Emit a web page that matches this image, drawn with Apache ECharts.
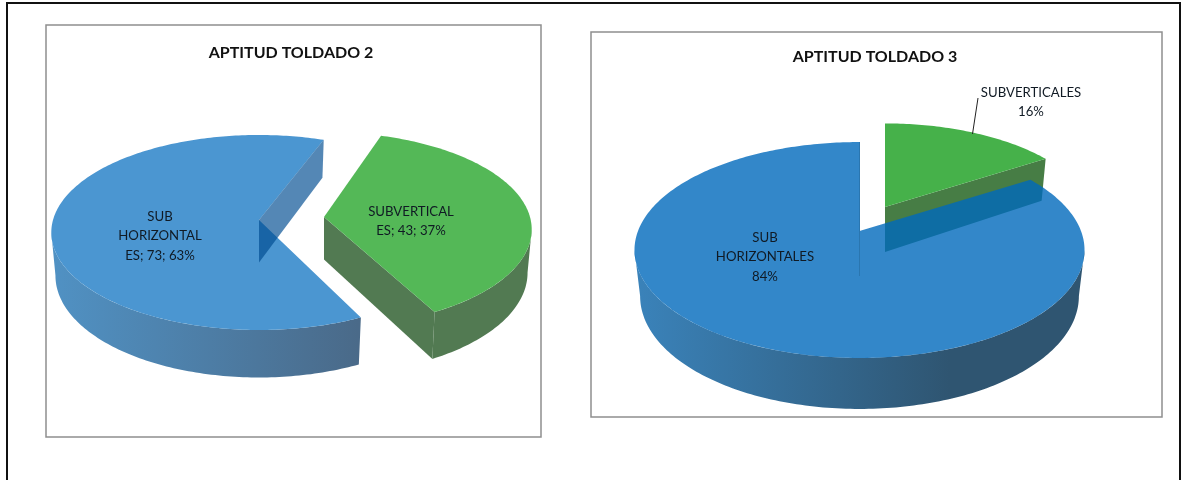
<!DOCTYPE html>
<html>
<head>
<meta charset="utf-8">
<style>html,body{margin:0;padding:0;background:#fff}#c{width:1181px;height:480px}</style>
<script src="https://cdn.jsdelivr.net/npm/echarts@6/dist/echarts.min.js"></script>
</head>
<body>
<div id="c"></div>
<script>
// ---- data ----
const titles = ['APTITUD TOLDADO 2', 'APTITUD TOLDADO 3'];
const toldado2Names = ['SUBVERTICAL\nES', 'SUB\nHORIZONTAL\nES'];
const toldado2Values = [43, 73];
const toldado3Names = ['SUBVERTICALES', 'SUB\nHORIZONTALES'];
const toldado3Values = [16, 84];

// ---- layout and style (no data here) ----
const FONT = 'Lato';
const LABEL_COLOR = '#101a24';
const charts = [
  {
    names: toldado2Names, values: toldado2Values, start: 20.6,
    k: 0.128, rx: 206, ry: 95.9, d0: 42.5, d1: 5, botScale: 0.98,
    label: p => `${p.name}; ${p.value}; ${p.pct}%`,
    slices: [
      { cx: 324, cy: 217, scale: 1, rot: -2.5, top: '#54b857',
        side: '#527a52', face: { fill: '#527a52', over: false },
        labelPos: [411, 221] },
      { cx: 259, cy: 220, scale: 1, rot: 0, top: '#4b96d1',
        side: { x: 55, x2: 358, stops: ['#5091c3', '#4a6a89'] },
        face: { fill: 'rgba(0,76,145,0.67)', over: true },
        labelPos: [160, 236] }
    ]
  },
  {
    names: toldado3Names, values: toldado3Values, start: 0,
    k: 0.176, rx: 221.5, ry: 104.6, d0: 45, d1: 6, botScale: 0.975,
    label: p => `${p.name}\n${p.value}%`,
    slices: [
      { cx: 885, cy: 207, scale: 0.94, rot: 0, top: '#46b14a',
        side: '#477d45', face: { fill: '#477d45', over: false },
        labelPos: [1031, 102] },
      { cx: 859.5, cy: 231, scale: 1, rot: 0, top: 'rgba(0,105,187,0.8)',
        side: { x: 640, x2: 950, stops: ['#3a82b9', '#2f5571'] },
        face: { fill: '#2a76b0', stroke: '#2a76b0', over: true },
        labelPos: [765, 257] }
    ],
    leader: [[978, 98], [972.5, 134]]
  }
];
const frames = [
  { x: 46, y: 25, width: 495, height: 412 },
  { x: 591, y: 32, width: 571, height: 385 }
];
const titlePos = [[291, 53], [875, 57]];

function rad(d) { return d * Math.PI / 180; }

function project(c, s, t) {
  const u = Math.sin(rad(t)), v = -Math.cos(rad(t)), w = 1 - c.k * v;
  return {
    top: [s.cx + s.scale * c.rx * u / w, s.cy + s.scale * c.ry * v / w],
    bot: [s.cx + s.scale * c.botScale * c.rx * u / w,
          s.cy + s.scale * c.ry * v / w + c.d0 + c.d1 * v]
  };
}
function arc(c, s, a, b, which) {
  const pts = [], n = Math.max(2, Math.ceil(Math.abs(b - a)));
  for (let i = 0; i <= n; i++) pts.push(project(c, s, a + (b - a) * i / n)[which]);
  return pts;
}

function renderSlice(chart) {
  return function (params, api) {
    const c = chart, i = params.dataIndex, s = c.slices[i];
    const value = api.value(0);
    const total = c.values.reduce((x, y) => x + y, 0);
    const before = c.values.slice(0, i).reduce((x, y) => x + y, 0);
    const a = c.start + s.rot + before / total * 360;
    const b = a + value / total * 360;
    const apexTop = [s.cx, s.cy], apexBot = [s.cx, s.cy + c.d0];
    const children = [];

    // outer wall: only the part of the rim that faces the viewer
    const tangent = Math.asin(c.k) * 180 / Math.PI;
    const va = Math.max(a, 90 + tangent), vb = Math.min(b, 270 - tangent);
    if (vb > va) {
      const fill = typeof s.side === 'string' ? s.side : {
        type: 'linear', global: true, x: s.side.x, y: 0, x2: s.side.x2, y2: 0,
        colorStops: [{ offset: 0, color: s.side.stops[0] }, { offset: 1, color: s.side.stops[1] }]
      };
      const wall = arc(c, s, va, vb, 'top').concat(arc(c, s, va, vb, 'bot').reverse());
      children.push({ type: 'polygon', shape: { points: wall }, style: { fill } });
    }
    // cut face on the closing edge of the slice
    const end = project(c, s, b);
    const facePts = [apexTop, end.top, end.bot, apexBot];
    const face = {
      type: 'polygon', shape: { points: facePts },
      style: { fill: s.face.fill, stroke: s.face.stroke || null, lineWidth: 1 }
    };
    if (!s.face.over) children.push(face);
    // top face
    const topPts = [apexTop].concat(arc(c, s, a, b, 'top'));
    children.push({ type: 'polygon', shape: { points: topPts }, style: { fill: s.top } });
    if (s.face.over) children.push(face);
    // data label
    const pct = Math.round(value / total * 100);
    children.push({
      type: 'text', z2: 50,
      style: {
        x: s.labelPos[0], y: s.labelPos[1],
        text: c.label({ name: c.names[i], value, pct }),
        align: 'center', verticalAlign: 'middle',
        fontFamily: FONT, fontSize: 13.2, lineHeight: 19.5, fill: LABEL_COLOR
      }
    });
    if (c.leader && i === 0) {
      children.push({
        type: 'line', z2: 50,
        shape: { x1: c.leader[0][0], y1: c.leader[0][1], x2: c.leader[1][0], y2: c.leader[1][1] },
        style: { stroke: '#222', lineWidth: 1 }
      });
    }
    return { type: 'group', children };
  };
}

const chartEl = echarts.init(document.getElementById('c'), null, { renderer: 'canvas' });
chartEl.setOption({
  animation: false,
  backgroundColor: '#fff',
  title: titles.map((t, i) => ({
    text: t, left: titlePos[i][0], top: titlePos[i][1] - 8, textAlign: 'center', padding: 0,
    textStyle: { fontFamily: FONT, fontWeight: 'bold', fontSize: 16, color: '#111' }
  })),
  graphic: [
    { type: 'polyline', silent: true, shape: { points: [[7, 480], [7, 3], [1180, 3], [1180, 480]] },
      style: { fill: null, stroke: '#111', lineWidth: 2 } }
  ].concat(frames.map(f => ({
    type: 'rect', silent: true, z: -1, shape: f,
    style: { fill: '#fff', stroke: '#8f8f8f', lineWidth: 1.5 }
  }))),
  series: charts.map(c => ({
    type: 'custom', coordinateSystem: 'none', silent: true,
    renderItem: renderSlice(c),
    data: c.values.map(v => [v])
  }))
});
</script>
</body>
</html>
